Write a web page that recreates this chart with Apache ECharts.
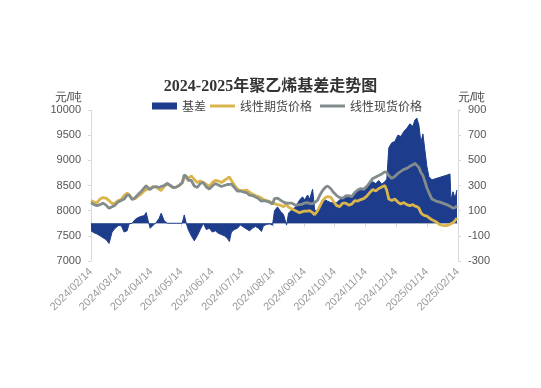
<!DOCTYPE html>
<html><head><meta charset="utf-8">
<script src="https://cdn.jsdelivr.net/npm/echarts@6/dist/echarts.min.js"></script>
<style>html,body{margin:0;padding:0;background:#fff}#c{width:541px;height:388px}</style>
</head><body><div id="c"></div>
<script>
const titleText = '2024-2025年聚乙烯基差走势图';
const seriesNames = ['基差', '线性期货价格', '线性现货价格'];
const tickLabels = ['2024/02/14','2024/03/14','2024/04/14','2024/05/14','2024/06/14','2024/07/14','2024/08/14','2024/09/14','2024/10/14','2024/11/14','2024/12/14','2025/01/14','2025/02/14'];
const dates = ['2024-02-14','2024-02-17','2024-02-20','2024-02-23','2024-02-26','2024-02-29','2024-03-03','2024-03-06','2024-03-09','2024-03-12','2024-03-15','2024-03-18','2024-03-21','2024-03-23','2024-03-26','2024-03-29','2024-04-01','2024-04-04','2024-04-07','2024-04-09','2024-04-11','2024-04-13','2024-04-16','2024-04-19','2024-04-22','2024-04-24','2024-04-27','2024-04-30','2024-05-03','2024-05-06','2024-05-09','2024-05-12','2024-05-15','2024-05-17','2024-05-19','2024-05-21','2024-05-24','2024-05-27','2024-05-30','2024-06-02','2024-06-05','2024-06-08','2024-06-11','2024-06-14','2024-06-17','2024-06-20','2024-06-23','2024-06-26','2024-06-29','2024-07-01','2024-07-03','2024-07-06','2024-07-09','2024-07-12','2024-07-15','2024-07-18','2024-07-21','2024-07-24','2024-07-27','2024-07-30','2024-08-02','2024-08-04','2024-08-07','2024-08-10','2024-08-13','2024-08-15','2024-08-18','2024-08-21','2024-08-24','2024-08-27','2024-08-29','2024-09-01','2024-09-05','2024-09-09','2024-09-12','2024-09-14','2024-09-17','2024-09-19','2024-09-22','2024-09-24','2024-09-27','2024-09-29','2024-10-02','2024-10-05','2024-10-07','2024-10-10','2024-10-13','2024-10-16','2024-10-19','2024-10-22','2024-10-25','2024-10-28','2024-10-31','2024-11-03','2024-11-06','2024-11-09','2024-11-12','2024-11-15','2024-11-18','2024-11-21','2024-11-24','2024-11-27','2024-11-30','2024-12-03','2024-12-05','2024-12-07','2024-12-10','2024-12-13','2024-12-16','2024-12-19','2024-12-22','2024-12-25','2024-12-28','2024-12-31','2025-01-02','2025-01-04','2025-01-06','2025-01-08','2025-01-10','2025-01-12','2025-01-14','2025-01-16','2025-01-19','2025-01-23','2025-01-27','2025-01-31','2025-02-04','2025-02-06','2025-02-07','2025-02-09','2025-02-11','2025-02-13'];
const futures = [8200,8170,8160,8230,8260,8250,8200,8140,8150,8200,8220,8300,8350,8320,8230,8240,8290,8330,8390,8420,8430,8450,8480,8470,8420,8400,8480,8540,8500,8460,8470,8500,8550,8640,8680,8640,8690,8620,8560,8590,8560,8520,8480,8560,8600,8590,8560,8600,8640,8670,8600,8510,8430,8400,8400,8410,8370,8330,8300,8280,8250,8220,8200,8180,8150,8140,8120,8110,8080,8130,8070,8040,8000,7960,7980,7990,7990,8000,7960,7920,8000,8080,8200,8260,8280,8270,8180,8100,8080,8150,8150,8110,8130,8200,8190,8220,8240,8290,8360,8420,8390,8440,8470,8500,8400,8230,8200,8230,8170,8130,8160,8120,8100,8120,8090,8080,8050,7960,7920,7900,7890,7860,7820,7780,7720,7700,7710,7730,7740,7760,7800,7850];
const spot = [8160,8120,8100,8120,8150,8110,8050,8080,8110,8170,8200,8230,8310,8310,8220,8260,8320,8380,8450,8500,8450,8420,8470,8480,8460,8480,8500,8540,8500,8460,8470,8500,8560,8710,8680,8600,8600,8490,8460,8540,8560,8470,8430,8490,8540,8510,8480,8500,8520,8520,8530,8460,8390,8390,8370,8360,8310,8300,8270,8240,8190,8200,8190,8170,8130,8240,8250,8210,8170,8150,8150,8150,8110,8120,8130,8150,8160,8140,8140,8160,8210,8300,8400,8470,8490,8440,8360,8300,8260,8250,8290,8300,8280,8360,8410,8440,8420,8480,8560,8640,8670,8700,8730,8770,8760,8700,8640,8680,8740,8780,8820,8840,8880,8910,8940,8900,8860,8760,8700,8580,8450,8360,8230,8190,8170,8140,8110,8090,8080,8050,8060,8100];
const basis = [-60,-75,-85,-100,-115,-130,-160,-70,-40,-20,-15,-70,-60,-5,0,30,45,55,60,85,20,-40,-15,5,40,80,20,0,0,0,0,0,0,66,0,-50,-100,-140,-100,-50,0,-50,-40,-70,-60,-80,-90,-100,-120,-145,-70,-50,-40,-13,-30,-45,-60,-40,-25,-40,-65,-20,-10,-5,-15,100,130,95,70,-15,80,105,130,185,210,185,225,190,270,110,80,140,170,185,175,165,160,165,185,200,225,215,200,240,270,260,280,300,320,330,315,340,310,330,350,600,640,650,700,690,730,755,790,770,820,835,780,640,710,580,450,370,345,355,365,375,385,392,185,250,200,265];

const base = Date.UTC(2024, 1, 14);
function dayOf(s) { const p = s.split(/[-\/]/).map(Number); return Math.round((Date.UTC(p[0], p[1]-1, p[2]) - base) / 86400000); }
const tickDays = tickLabels.map(dayOf);
const xs = dates.map(dayOf);
const pair = arr => arr.map((v, i) => [xs[i], v]);

const legendText = { fontSize: 12, color: '#444', fontFamily: 'Noto Sans CJK SC' };
const chart = echarts.init(document.getElementById('c'));
chart.setOption({
  animation: false,
  backgroundColor: '#fff',
  title: { text: titleText, left: 'center', top: 74, textStyle: { fontSize: 16, fontWeight: 'bold', color: '#333', fontFamily: '"Liberation Serif", "Noto Sans CJK SC"' } },
  legend: [
    { top: 100, left: 152, padding: 0, itemWidth: 25, itemHeight: 7, itemGap: 8, textStyle: legendText,
      data: [{ name: seriesNames[0], icon: 'rect' }] },
    { top: 100, left: 210, padding: 0, itemWidth: 25, itemHeight: 3, itemGap: 8, textStyle: legendText,
      data: [{ name: seriesNames[1], icon: 'rect' }, { name: seriesNames[2], icon: 'rect' }] }
  ],
  grid: { left: 91, right: 83, top: 110, bottom: 127 },
  xAxis: {
    type: 'value', min: 0, max: tickDays[tickDays.length - 1],
    axisLine: { show: true, lineStyle: { color: '#d9d9d9' } },
    axisTick: { show: true, customValues: tickDays, length: 4, lineStyle: { color: '#d9d9d9' } },
    splitLine: { show: false },
    axisLabel: {
      customValues: tickDays, rotate: 45, fontSize: 11, color: '#999', margin: 9,
      formatter: v => { const i = tickDays.indexOf(v); return i >= 0 ? tickLabels[i] : ''; }
    }
  },
  yAxis: [
    { type: 'value', min: 7000, max: 10000, interval: 500, name: '元/吨', nameGap: 6,
      nameTextStyle: { align: 'right', fontSize: 12, color: '#444', padding: [0, 9, 0, 0] },
      axisLine: { show: true, lineStyle: { color: '#d9d9d9' } }, axisTick: { show: true, length: 3, lineStyle: { color: '#d9d9d9' } },
      splitLine: { show: false }, axisLabel: { fontSize: 11, color: '#555', margin: 10, formatter: v => String(v) } },
    { type: 'value', min: -300, max: 900, interval: 200, name: '元/吨', nameGap: 6,
      nameTextStyle: { align: 'left', fontSize: 12, color: '#444' },
      axisLine: { show: true, lineStyle: { color: '#d9d9d9' } }, axisTick: { show: true, length: 3, lineStyle: { color: '#d9d9d9' } },
      splitLine: { show: false }, axisLabel: { fontSize: 11, color: '#555', margin: 10, formatter: v => String(v) } }
  ],
  series: [
    { name: seriesNames[0], type: 'line', yAxisIndex: 1, data: pair(basis), symbol: 'none',
      lineStyle: { width: 1, color: '#1d3d8c' }, itemStyle: { color: '#1d3d8c' }, areaStyle: { color: '#1d3d8c', opacity: 1 } },
    { name: seriesNames[1], type: 'line', yAxisIndex: 0, data: pair(futures), symbol: 'none',
      lineStyle: { width: 2.8, color: '#dab54c' }, itemStyle: { color: '#dab54c' } },
    { name: seriesNames[2], type: 'line', yAxisIndex: 0, data: pair(spot), symbol: 'none',
      lineStyle: { width: 2.8, color: '#838c8c' }, itemStyle: { color: '#838c8c' } }
  ]
});
</script></body></html>
